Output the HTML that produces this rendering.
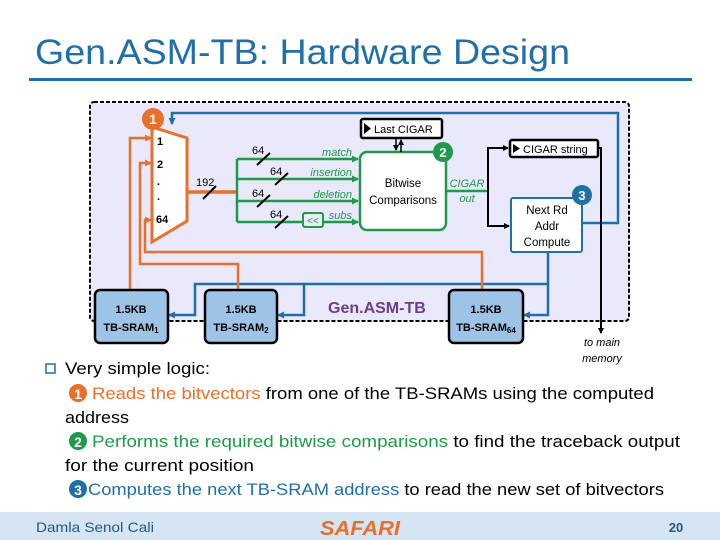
<!DOCTYPE html>
<html><head><meta charset="utf-8"><style>
html,body{margin:0;padding:0;background:#fff;}
svg{display:block;font-family:"Liberation Sans",sans-serif;}
</style></head><body>
<svg width="720" height="540" viewBox="0 0 720 540" xmlns="http://www.w3.org/2000/svg">
<defs>
<marker id="ab" markerWidth="6" markerHeight="6" refX="5" refY="3" orient="auto" markerUnits="userSpaceOnUse"><path d="M0,0 L6,3 L0,6 z" fill="#000"/></marker>
<marker id="ao" markerWidth="7" markerHeight="7" refX="6" refY="3.5" orient="auto" markerUnits="userSpaceOnUse"><path d="M0,0 L7,3.5 L0,7 z" fill="#e8702a"/></marker>
<marker id="ag" markerWidth="7" markerHeight="7" refX="6" refY="3.5" orient="auto" markerUnits="userSpaceOnUse"><path d="M0,0 L7,3.5 L0,7 z" fill="#1e9a4a"/></marker>
<marker id="au" markerWidth="7" markerHeight="7" refX="6" refY="3.5" orient="auto" markerUnits="userSpaceOnUse"><path d="M0,0 L7,3.5 L0,7 z" fill="#1f6fa8"/></marker>
</defs>
<!-- title -->
<text x="35" y="64" font-size="35" fill="#1f6fa8" textLength="535" lengthAdjust="spacingAndGlyphs">Gen.ASM-TB: Hardware Design</text>
<rect x="29" y="78" width="663" height="3" fill="#1f6fa8"/>

<!-- dashed box -->
<rect x="90" y="102" width="539" height="219" rx="4" fill="#e9e9fb" stroke="#000" stroke-width="2" stroke-dasharray="4,2"/>
<text x="328" y="313" font-size="16" font-weight="bold" fill="#6a3d8f">Gen.ASM-TB</text>

<!-- blue feedback lines -->
<g fill="none" stroke="#1f6fa8" stroke-width="2.5">
<polyline points="582,223 618,223 618,113 172,113 172,124" marker-end="url(#au)"/>
<polyline points="548,252 548,315 524,315" marker-end="url(#au)"/>
<polyline points="548,284 195,284 195,315 169,315" marker-end="url(#au)"/>
<polyline points="304,284 304,315 278,315" marker-end="url(#au)"/>
</g>
<!-- orange lines -->
<g fill="none" stroke="#e8702a" stroke-width="2.5">
<polyline points="130,290 130,138 151,138" marker-end="url(#ao)"/>
<polyline points="238,290 238,264 140,264 140,163 151,163" marker-end="url(#ao)"/>
<polyline points="482,290 482,252 145,252 145,220 151,220" marker-end="url(#ao)"/>
<line x1="187" y1="192" x2="238" y2="192" stroke-width="3.5"/>
</g>
<!-- mux -->
<polygon points="152,127 187,138 187,221 152,242" fill="#fff" stroke="#e8702a" stroke-width="3"/>
<g font-size="11" font-weight="bold" fill="#000">
<text x="157" y="145">1</text><text x="157" y="168">2</text>
<text x="157" y="185">.</text><text x="157" y="200">.</text>
<text x="156" y="223">64</text>
</g>
<circle cx="153" cy="119" r="11" fill="#e8702a"/>
<text x="153" y="124" font-size="14" font-weight="bold" fill="#fff" text-anchor="middle">1</text>
<text x="196" y="186" font-size="11">192</text>
<line x1="203" y1="199" x2="216" y2="186" stroke="#000" stroke-width="2"/>

<!-- green bus -->
<g fill="none" stroke="#1e9a4a" stroke-width="2.5">
<polyline points="237,159 237,222"/>
<line x1="237" y1="159" x2="358" y2="159" marker-end="url(#ag)"/>
<line x1="237" y1="179" x2="358" y2="179" marker-end="url(#ag)"/>
<line x1="237" y1="201" x2="358" y2="201" marker-end="url(#ag)"/>
<line x1="237" y1="222" x2="358" y2="222" marker-end="url(#ag)"/>
<line x1="446" y1="191" x2="488" y2="191"/>
</g>
<rect x="303" y="213" width="20" height="14" rx="2" fill="#e9e9fb" stroke="#1e9a4a" stroke-width="2"/>
<text x="313" y="224" font-size="10" fill="#1e9a4a" text-anchor="middle">&lt;&lt;</text>
<g stroke="#000" stroke-width="2">
<line x1="257" y1="165" x2="270" y2="153"/>
<line x1="275" y1="185" x2="288" y2="173"/>
<line x1="257" y1="207" x2="270" y2="195"/>
<line x1="275" y1="228" x2="288" y2="216"/>
</g>
<g font-size="11" fill="#000">
<text x="252" y="154">64</text><text x="270" y="175">64</text>
<text x="252" y="197">64</text><text x="270" y="218">64</text>
</g>
<g font-size="11" font-style="italic" fill="#1e9a4a" text-anchor="end">
<text x="352" y="156">match</text><text x="352" y="176">insertion</text>
<text x="352" y="198">deletion</text><text x="352" y="219">subs</text>
</g>
<rect x="360" y="152" width="86" height="78" rx="7" fill="#fff" stroke="#1e9a4a" stroke-width="2.5"/>
<text x="403" y="187" font-size="11.5" text-anchor="middle">Bitwise</text>
<text x="403" y="204" font-size="11.5" text-anchor="middle">Comparisons</text>
<circle cx="443" cy="152" r="10" fill="#1e9a4a"/>
<text x="443" y="157" font-size="13" font-weight="bold" fill="#fff" text-anchor="middle">2</text>
<text x="467" y="187" font-size="11" font-style="italic" fill="#1e9a4a" text-anchor="middle">CIGAR</text>
<text x="467" y="202" font-size="11" font-style="italic" fill="#1e9a4a" text-anchor="middle">out</text>

<!-- Last CIGAR -->
<rect x="361" y="119" width="81" height="19" rx="2" fill="#fff" stroke="#000" stroke-width="2.5"/>
<path d="M364,123 L371,128.5 L364,134 z" fill="#000"/>
<text x="374" y="133" font-size="11">Last CIGAR</text>
<line x1="396" y1="138" x2="396" y2="150" stroke="#000" stroke-width="1.5" marker-end="url(#ab)"/>
<line x1="401" y1="152" x2="401" y2="140" stroke="#000" stroke-width="1.5" marker-end="url(#ab)"/>

<!-- black routing -->
<g fill="none" stroke="#000" stroke-width="2">
<polyline points="488,191 488,148 508,148" marker-end="url(#ab)"/>
<polyline points="488,191 488,226 509,226" marker-end="url(#ab)"/>
<polyline points="598,148 601,148 601,333" marker-end="url(#ab)"/>
</g>
<rect x="510" y="140" width="88" height="17" rx="2" fill="#fff" stroke="#000" stroke-width="2.5"/>
<path d="M513,144 L520,148.5 L513,153 z" fill="#000"/>
<text x="523" y="153" font-size="11">CIGAR string</text>

<!-- Next Rd -->
<rect x="511" y="198" width="71" height="54" rx="2" fill="#fff" stroke="#1f6fa8" stroke-width="2"/>
<text x="547" y="214" font-size="11.5" text-anchor="middle">Next Rd</text>
<text x="547" y="230" font-size="11.5" text-anchor="middle">Addr</text>
<text x="547" y="246" font-size="11.5" text-anchor="middle">Compute</text>
<circle cx="582" cy="195" r="10" fill="#1f6fa8"/>
<text x="582" y="200" font-size="13" font-weight="bold" fill="#fff" text-anchor="middle">3</text>
<text x="602" y="346" font-size="11" font-style="italic" text-anchor="middle">to main</text>
<text x="602" y="362" font-size="11" font-style="italic" text-anchor="middle">memory</text>

<!-- SRAMs -->
<g stroke="#000" stroke-width="2.5" fill="#9dc3e6">
<rect x="95" y="290" width="73" height="53" rx="5"/>
<rect x="205" y="290" width="72" height="53" rx="5"/>
<rect x="449" y="290" width="74" height="53" rx="5"/>
</g>
<g font-size="11" font-weight="bold" text-anchor="middle">
<text x="131" y="313">1.5KB</text><text x="131" y="331">TB-SRAM<tspan font-size="8" dy="2">1</tspan></text>
<text x="241" y="313">1.5KB</text><text x="241" y="331">TB-SRAM<tspan font-size="8" dy="2">2</tspan></text>
<text x="486" y="313">1.5KB</text><text x="486" y="331">TB-SRAM<tspan font-size="8" dy="2">64</tspan></text>
</g>

<!-- body text -->
<rect x="46" y="364" width="9" height="9" fill="none" stroke="#1f6fa8" stroke-width="1.5"/>
<text x="65" y="374" font-size="17" textLength="145" lengthAdjust="spacingAndGlyphs">Very simple logic:</text>
<circle cx="78" cy="393" r="9" fill="#e8702a"/><text x="78" y="399" font-size="14" font-weight="bold" fill="#fff" text-anchor="middle">1</text>
<text x="92" y="399" font-size="17" textLength="562" lengthAdjust="spacingAndGlyphs"><tspan fill="#e8702a">Reads the bitvectors</tspan> from one of the TB-SRAMs using the computed</text>
<text x="65" y="423" font-size="17" textLength="64" lengthAdjust="spacingAndGlyphs">address</text>
<circle cx="78" cy="441" r="9" fill="#1e9a4a"/><text x="78" y="447" font-size="14" font-weight="bold" fill="#fff" text-anchor="middle">2</text>
<text x="92" y="447" font-size="17" textLength="588" lengthAdjust="spacingAndGlyphs"><tspan fill="#1e9a4a">Performs the required bitwise comparisons</tspan> to find the traceback output</text>
<text x="65" y="471" font-size="17" textLength="189" lengthAdjust="spacingAndGlyphs">for the current position</text>
<circle cx="78" cy="489" r="9" fill="#1f6fa8"/><text x="78" y="495" font-size="14" font-weight="bold" fill="#fff" text-anchor="middle">3</text>
<text x="88" y="495" font-size="17" textLength="576" lengthAdjust="spacingAndGlyphs"><tspan fill="#1f6fa8">Computes the next TB-SRAM address</tspan> to read the new set of bitvectors</text>

<!-- footer -->
<rect x="0" y="512" width="720" height="28" fill="#d6e5f4"/>
<text x="36" y="532" font-size="14" fill="#1f5a8a" textLength="118" lengthAdjust="spacingAndGlyphs">Damla Senol Cali</text>
<text x="360" y="535" font-size="20" font-weight="bold" font-style="italic" fill="#e8702a" text-anchor="middle" textLength="80" lengthAdjust="spacingAndGlyphs">SAFARI</text>
<text x="676" y="532" font-size="13" font-weight="bold" fill="#1f5a8a" text-anchor="middle">20</text>
</svg>
</body></html>
